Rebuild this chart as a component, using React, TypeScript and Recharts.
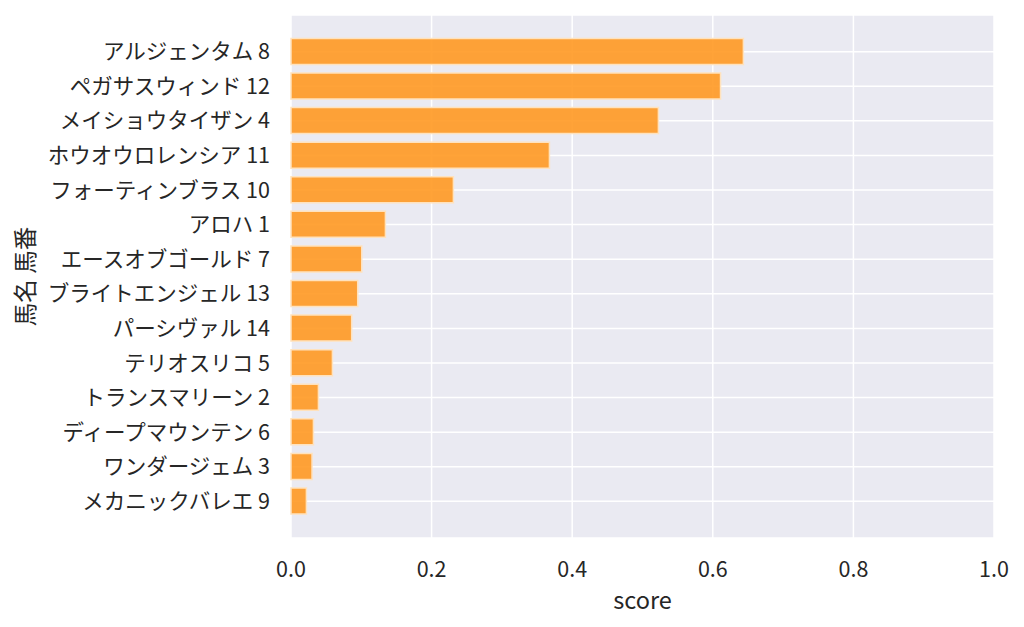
import React from 'react';
import { BarChart, Bar, XAxis, YAxis, CartesianGrid } from 'recharts';

const horseNames = [
  'アルジェンタム 8',
  'ペガサスウィンド 12',
  'メイショウタイザン 4',
  'ホウオウロレンシア 11',
  'フォーティンブラス 10',
  'アロハ 1',
  'エースオブゴールド 7',
  'ブライトエンジェル 13',
  'パーシヴァル 14',
  'テリオスリコ 5',
  'トランスマリーン 2',
  'ディープマウンテン 6',
  'ワンダージェム 3',
  'メカニックバレエ 9',
];

const scores = [
  0.6435, 0.611, 0.5226, 0.3676, 0.231, 0.1343, 0.1006, 0.0949, 0.0863, 0.0589, 0.039, 0.0319,
  0.0299, 0.0219,
];

const xTicks = [0, 0.2, 0.4, 0.6, 0.8, 1.0];

const data = horseNames.map((name, i) => ({ name, score: scores[i] }));

const FONT = '"Noto Sans CJK JP", "Noto Sans", sans-serif';
const TEXT = '#262626';

const YLabel = (props: any) => {
  const vb = props.viewBox;
  const cx = 24;
  const cy = vb.y + vb.height / 2;
  return (
    <text
      x={cx}
      y={cy}
      transform={`rotate(-90 ${cx} ${cy})`}
      textAnchor="middle"
      dominantBaseline="central"
      fill={TEXT}
      fontSize={23.5}
      fontFamily={FONT}
    >
      馬名 馬番
    </text>
  );
};

const XLabel = (props: any) => {
  const vb = props.viewBox;
  const cx = vb.x + vb.width / 2;
  const cy = vb.y + 61;
  return (
    <text x={cx} y={cy} textAnchor="middle" dominantBaseline="central" fill={TEXT} fontSize={23.5} fontFamily={FONT}>
      score
    </text>
  );
};

export default function App() {
  return (
    <div style={{ position: 'absolute', left: 0, top: 0, width: 1024, height: 627, background: '#fff' }}>
      <BarChart
        width={1024}
        height={627}
        data={data}
        layout="vertical"
        margin={{ top: 15, right: 30, bottom: 29, left: 0 }}
      >
        <CartesianGrid fill="#EAEAF2" stroke="#ffffff" strokeWidth={1.5} />
        <XAxis
          type="number"
          dataKey="score"
          domain={[0, 1]}
          ticks={xTicks}
          tickFormatter={(v: number) => v.toFixed(1)}
          axisLine={false}
          tickLine={false}
          tickSize={0}
          tickMargin={23.5}
          height={60}
          tick={{ fill: TEXT, fontSize: 21.5, fontFamily: FONT }}
          label={<XLabel />}
        />
        <YAxis
          type="category"
          dataKey="name"
          width={291}
          axisLine={false}
          tickLine={false}
          tickSize={0}
          tickMargin={21}
          padding={{ top: 19.4, bottom: 19.4 }}
          interval={0}
          tick={{ fill: TEXT, fontSize: 21.5, fontFamily: FONT }}
          label={<YLabel />}
        />
        <Bar
          dataKey="score"
          barSize={26}
          fill="#FF9922"
          fillOpacity={0.9}
          stroke="#ffe2bd"
          strokeWidth={1.5}
          isAnimationActive={false}
        />
      </BarChart>
    </div>
  );
}
